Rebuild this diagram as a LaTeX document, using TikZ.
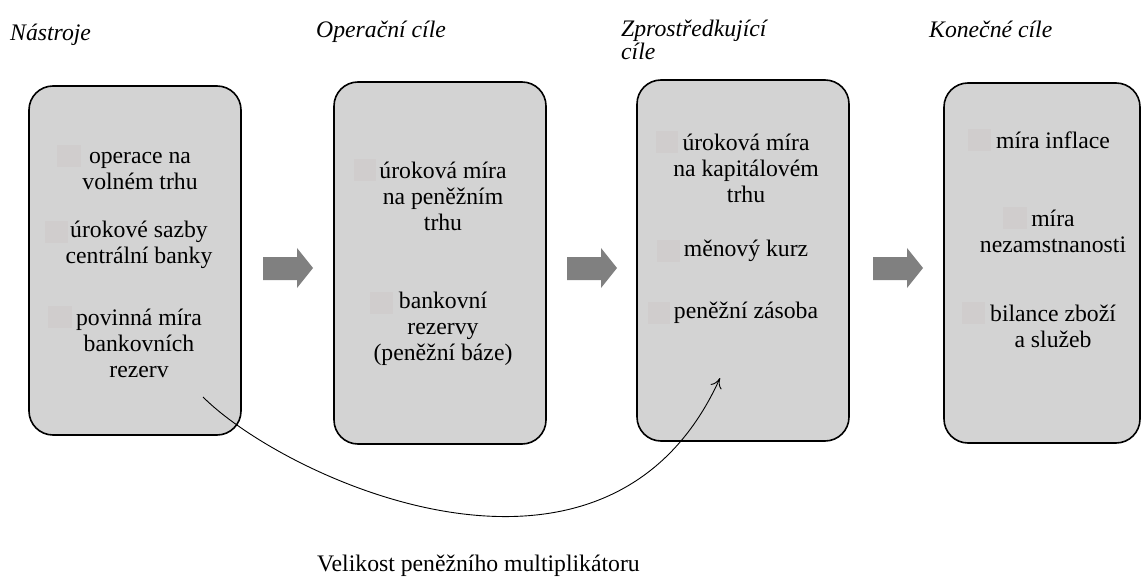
\documentclass[tikz,border=0pt]{standalone}
\usepackage{fontspec}
\setmainfont{Liberation Serif}
\usetikzlibrary{arrows.meta}
\definecolor{boxfill}{RGB}{211,211,211}
\definecolor{bulletcol}{RGB}{208,205,205}
\definecolor{arrowgray}{RGB}{128,128,128}
\newcommand{\blockarrowat}[1]{%
  \fill[arrowgray] (#1,257) -- ++(34,0) -- ++(0,-9) -- ++(16,20) -- ++(-16,20) -- ++(0,-8) -- ++(-34,0) -- cycle;}
\begin{document}
\begin{tikzpicture}[x=1pt,y=-1pt,
  panel/.style={draw=black,line width=1.6pt,fill=boxfill,rounded corners=24pt},
  item/.style={align=center,font=\fontsize{23.7}{26}\selectfont,inner sep=0pt},
  label/.style={font=\fontsize{23.7}{26}\selectfont,inner sep=0pt},
  head/.style={anchor=base west,align=left,font=\fontsize{23.7}{23.5}\selectfont\itshape,inner sep=0pt},
  bulletsq/.style={fill=bulletcol,draw=none}]
\useasboundingbox (0,0) rectangle (1142,577);
% headings
\node[head] (h1) at (10,41) {Nástroje};
\node[head] (h2) at (316,38) {Operační cíle};
\node[head] (h3) at (621,60) {Zprostředkující\\cíle};
\node[head] (h4) at (929,38) {Konečné cíle};
% panels
\draw[panel] (29,86) rectangle (241,435);
\draw[panel] (334,82) rectangle (546,444);
\draw[panel] (637,80) rectangle (849,441);
\draw[panel] (944,83) rectangle (1140,443);
% faint bullet squares
\fill[bulletsq] (57,145) rectangle (81,167);
\fill[bulletsq] (45,221) rectangle (68,243);
\fill[bulletsq] (48,306) rectangle (72,328);
\fill[bulletsq] (354,159) rectangle (376,181);
\fill[bulletsq] (370,292) rectangle (393,314);
\fill[bulletsq] (656,131) rectangle (678,153);
\fill[bulletsq] (657,240) rectangle (680,262);
\fill[bulletsq] (648,302) rectangle (670,324);
\fill[bulletsq] (968,129) rectangle (991,151);
\fill[bulletsq] (1003,207) rectangle (1027,229);
\fill[bulletsq] (962,302) rectangle (985,324);
% items
\node[item] (a1) at (140,171) {operace na\\volném trhu};
\node[item] (a2) at (139,245) {úrokové sazby\\centrální banky};
\node[item] (a3) at (139,343) {povinná míra\\bankovních\\rezerv};
\node[item] (b1) at (443,196) {úroková míra\\na peněžním\\trhu};
\node[item] (b2) at (443,329) {bankovní\\rezervy\\(peněžní báze)};
\node[item] (c1) at (746,168) {úroková míra\\na kapitálovém\\trhu};
\node[item] (c2) at (746,251) {měnový kurz};
\node[item] (c3) at (746,313) {peněžní zásoba};
\node[item] (d1) at (1053,140) {míra inflace};
\node[item] (d2) at (1053,231) {míra\\nezamstnanosti};
\node[item] (d3) at (1053,326) {bilance zboží\\a služeb};
% block arrows
\blockarrowat{263}
\blockarrowat{567}
\blockarrowat{873}
% curved arrow
\coordinate (cs) at (203,397);
\coordinate (ce) at (720,378);
\draw[line width=0.9pt,-{To[length=10pt,width=12pt]}] (cs) .. controls (285,479) and (607,628) .. (ce);
\node[label,anchor=base west] (lab) at (317,571) {Velikost peněžního multiplikátoru};
\end{tikzpicture}
\end{document}
